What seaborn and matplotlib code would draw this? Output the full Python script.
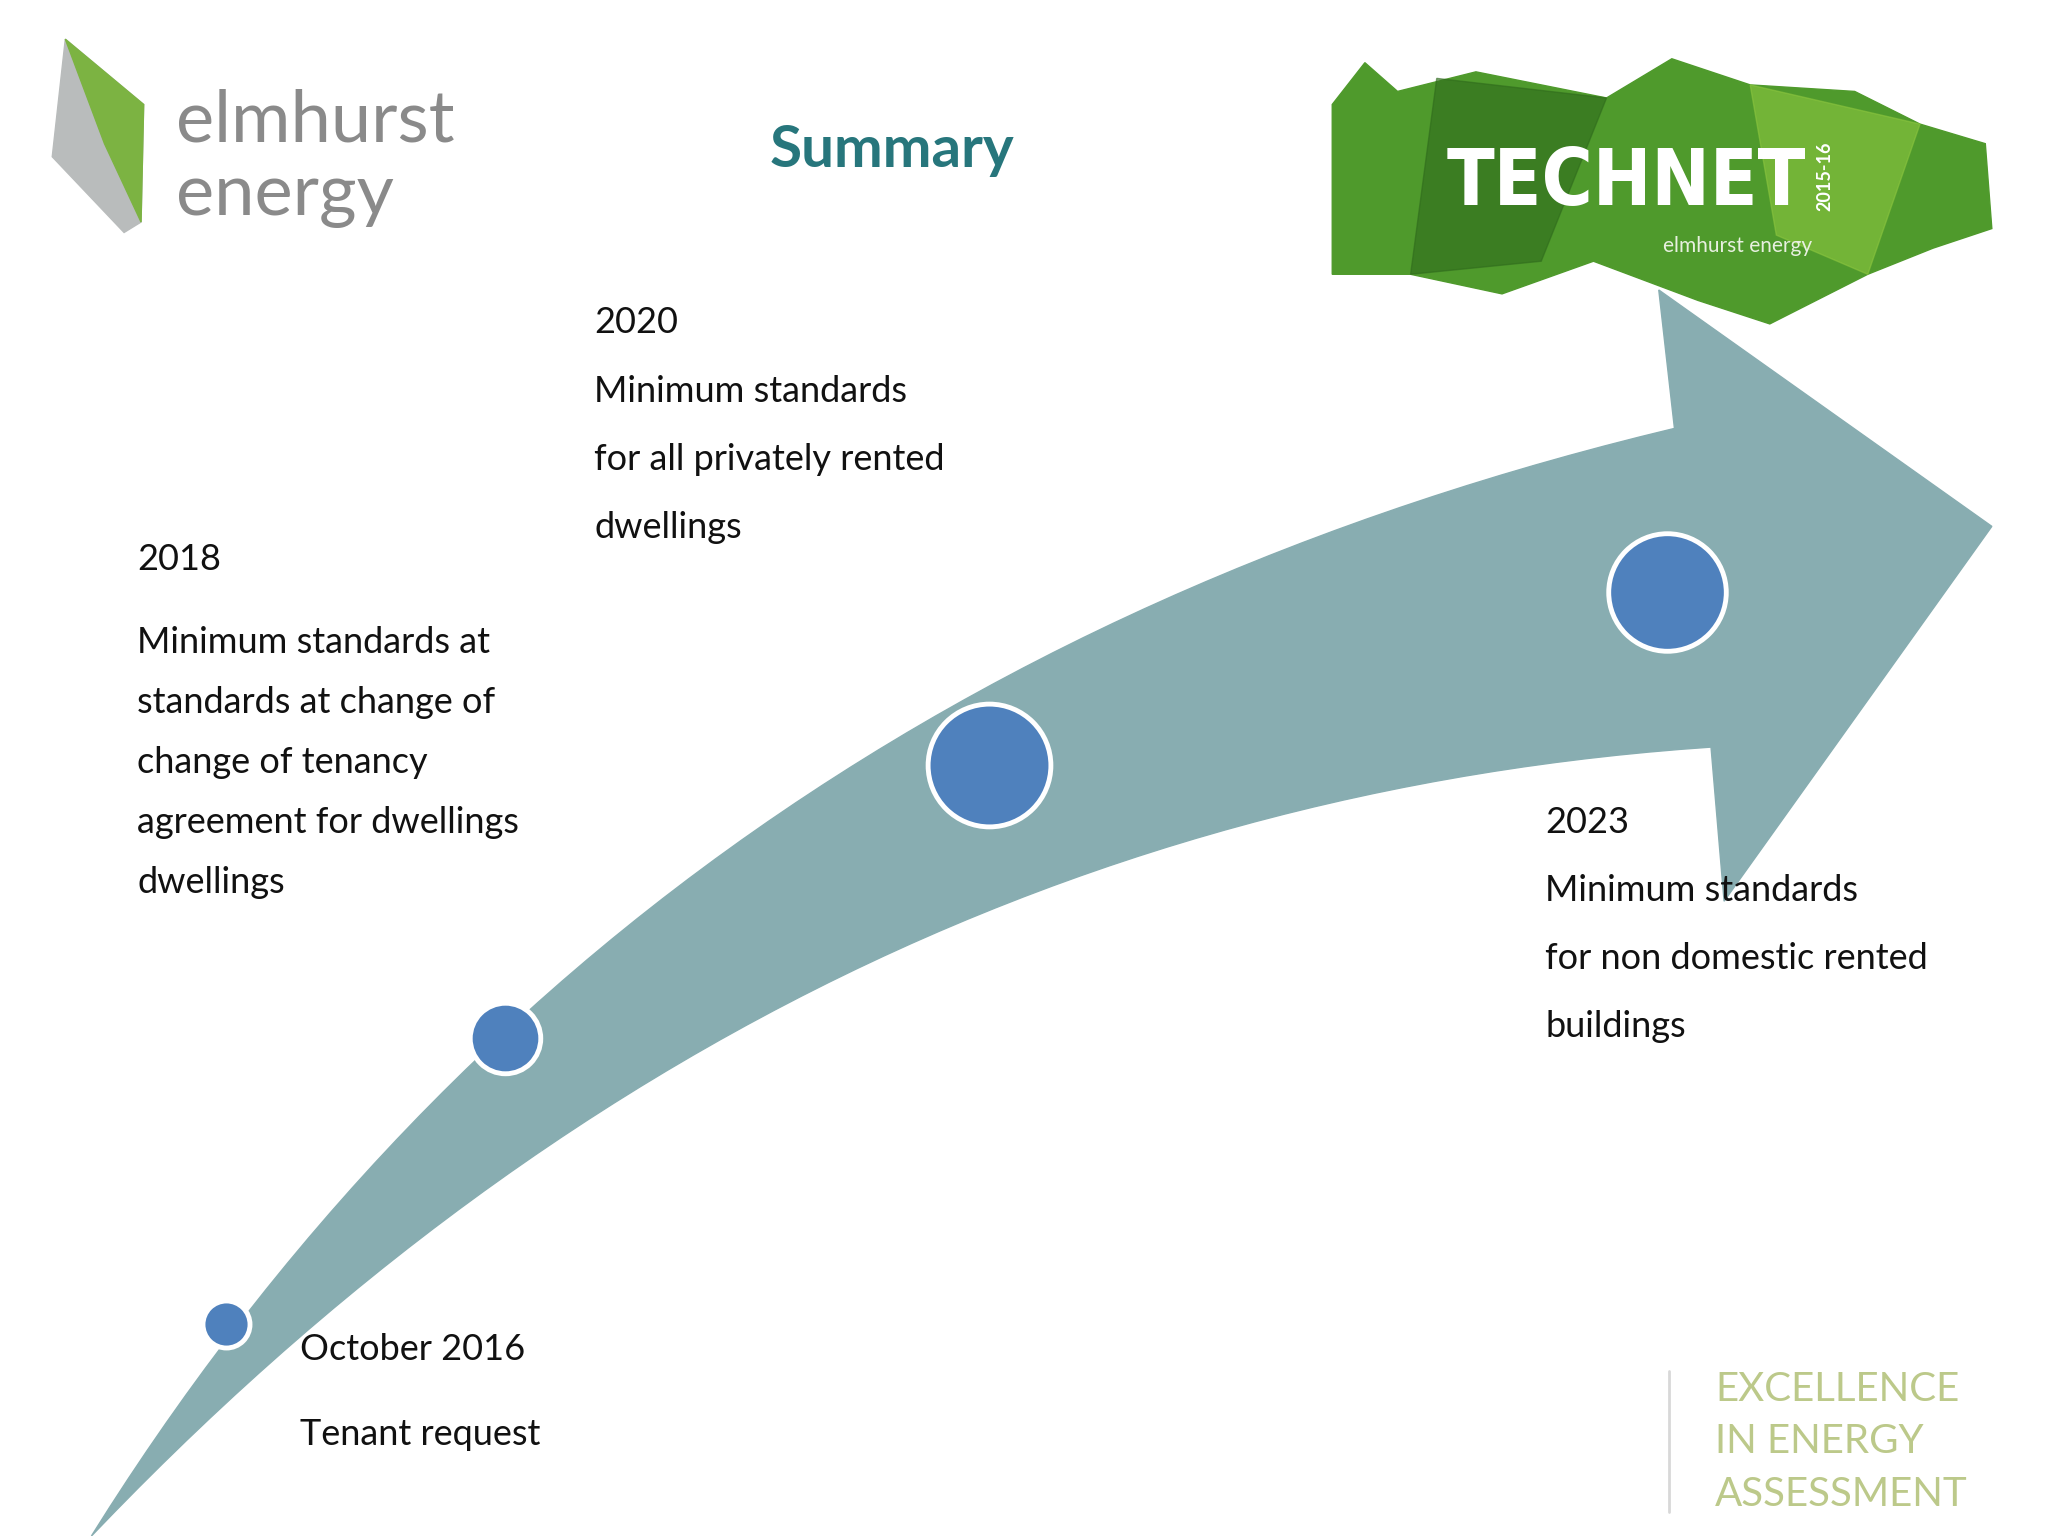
import numpy as np
import pandas as pd
import matplotlib.pyplot as plt
from matplotlib.patches import Polygon
import seaborn as sns

sns.set_theme(style="white")
plt.rcParams['font.family'] = ['Lato', 'DejaVu Sans']

# Datos de los hitos (coordenadas de la diapositiva, 1568x1176)
hito_x = [173, 387, 757, 1276]
hito_y = [1014, 795, 586, 453]
hito_r = [18, 27, 47, 45]

textos = [
    (230, 1033, "October 2016"), (230, 1098, "Tenant request"),
    (105, 428, "2018"),
    (105, 492, "Minimum standards at"), (105, 538, "standards at change of"),
    (105, 584, "change of tenancy"), (105, 630, "agreement for dwellings"),
    (105, 676, "dwellings"),
    (455, 247, "2020"), (455, 300, "Minimum standards"),
    (455, 352, "for all privately rented"), (455, 404, "dwellings"),
    (1183, 630, "2023"), (1183, 682, "Minimum standards"),
    (1183, 734, "for non domestic rented"), (1183, 786, "buildings"),
]

W, H = 1568, 1176
fig = plt.figure(figsize=(20.48, 15.36), dpi=100)
ax = fig.add_axes([0, 0, 1, 1])
ax.set_xlim(0, W)
ax.set_ylim(H, 0)
ax.axis('off')

def bezier(p0, p1, p2, n=60):
    t = np.linspace(0, 1, n)[:, None]
    return (1 - t) ** 2 * np.array(p0) + 2 * (1 - t) * t * np.array(p1) + t ** 2 * np.array(p2)

# Flecha curva
arriba = bezier((70, 1176), (480, 520), (1282, 328))
abajo = bezier((1310, 572), (600, 620), (70, 1176))
cabeza = np.array([(1270, 222), (1525, 403), (1320, 690)])
pts = np.vstack([arriba, cabeza, abajo])
ax.add_patch(Polygon(pts, closed=True, color='#88adb1', zorder=1))

df = pd.DataFrame({'x': hito_x, 'y': hito_y, 'r': hito_r})
px = 2048 / W
for _, f in df.iterrows():
    s = (2 * f.r * px * 72 / 100) ** 2
    ax.scatter(f.x, f.y, s=s, color='#4f81bd', edgecolor='white', linewidth=3.5, zorder=3)

for x, y, t in textos:
    ax.text(x, y, t, fontsize=26, va='center', ha='left', color='#111111')

ax.text(683, 115, "Summary", fontsize=42, fontweight='bold', color='#27767c',
        ha='center', va='center')

# Logo elmhurst
ax.add_patch(Polygon([(50, 30), (110, 80), (108, 170), (95, 178), (40, 120)],
                     color='#b9bcbc', zorder=2))
ax.add_patch(Polygon([(50, 30), (110, 80), (108, 170), (80, 110)], color='#7cb342', zorder=2))
ax.text(135, 93, "elmhurst", fontsize=52, color='#8a8a8a', va='center')
ax.text(135, 150, "energy", fontsize=52, color='#8a8a8a', va='center')

# Logo TECHNET
tech = [(1020, 80), (1045, 48), (1070, 70), (1130, 55), (1230, 75), (1280, 45),
        (1340, 65), (1420, 70), (1470, 95), (1520, 110), (1525, 175), (1480, 190),
        (1430, 210), (1355, 248), (1300, 230), (1220, 200), (1150, 225), (1080, 210),
        (1020, 210)]
ax.add_patch(Polygon(tech, color='#4f9a2c', zorder=2))
ax.add_patch(Polygon([(1100, 60), (1230, 75), (1180, 200), (1080, 210)], color='#2f6b1c', alpha=0.6, zorder=2))
ax.add_patch(Polygon([(1340, 65), (1470, 95), (1430, 210), (1360, 180)], color='#8cc63f', alpha=0.6, zorder=2))
ax.text(1245, 140, "TECHNET", fontsize=56, fontweight='bold', color='white',
        ha='center', va='center', zorder=4, family=['DejaVu Sans'], stretch='condensed')
ax.text(1397, 135, "2015-16", fontsize=13, fontweight='bold', color='white',
        rotation=90, ha='center', va='center', zorder=4)
ax.text(1330, 188, "elmhurst energy", fontsize=15, color='#e8f0e0', ha='center', va='center', zorder=4)

# Pie derecha
ax.plot([1278, 1278], [1050, 1158], color='#d8d8d8', lw=2)
for y, t in [(1064, "EXCELLENCE"), (1104, "IN ENERGY"), (1144, "ASSESSMENT")]:
    ax.text(1313, y, t, fontsize=29, color='#bcc98a', va='center')

fig.savefig("out.png", dpi=100, facecolor='white')
